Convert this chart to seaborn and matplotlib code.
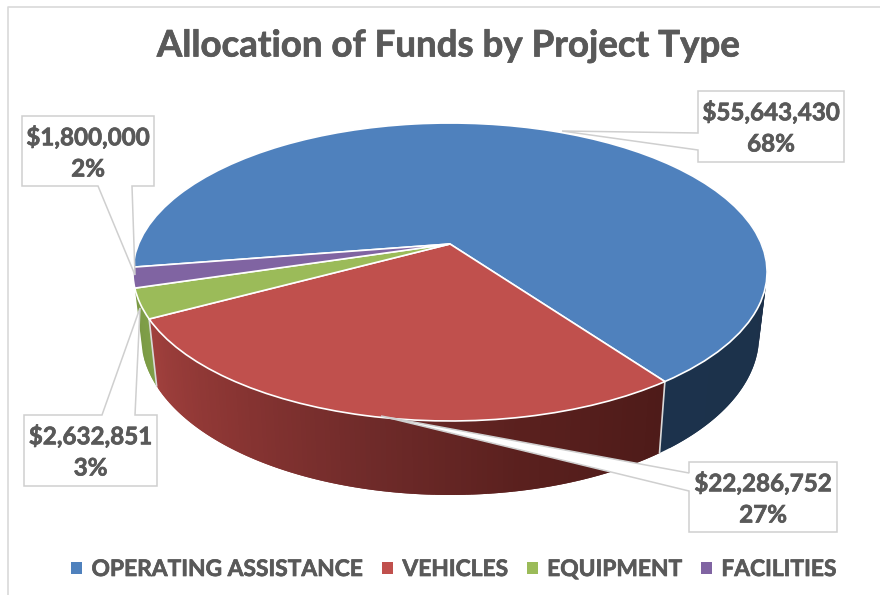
import numpy as np
import matplotlib
matplotlib.use('Agg')
import matplotlib.pyplot as plt
import matplotlib.patheffects as pe
from matplotlib.patches import Polygon, Patch
from matplotlib.transforms import Transform
import seaborn as sns

categorias = ['OPERATING ASSISTANCE', 'VEHICLES', 'EQUIPMENT', 'FACILITIES']
valores = [55643430, 22286752, 2632851, 1800000]
cores = ['#4F81BD', '#C0504D', '#9BBB59', '#8064A2']
titulo = 'Allocation of Funds by Project Type'

# geometria do disco em perspectiva (pixels)
CX, CY = 450, 244
A, B, K = 311.4, 143.7, 0.188
ENCOLHE = 0.975


class Perspectiva(Transform):
    input_dims = 2
    output_dims = 2

    def transform_non_affine(self, values):
        values = np.asarray(values, dtype=float)
        w = 1 + K * values[:, 1]
        return np.column_stack([CX + A * values[:, 0] / w, CY - B * values[:, 1] / w])


def borda(theta, base=False):
    t = np.radians(theta)
    v = np.sin(t)
    pts = Perspectiva().transform_non_affine(np.column_stack([np.cos(t), v]))
    if base:
        pts[:, 0] = CX + ENCOLHE * (pts[:, 0] - CX)
        pts[:, 1] = pts[:, 1] + 61 - 13 * v
    return pts


sns.set_theme(style='white')
plt.rcParams['font.family'] = ['Lato', 'DejaVu Sans']
paleta = sns.color_palette(cores)
COR_TEXTO = '#595959'
COR_CAIXA = '#CFCFCF'
engrossa = [pe.withStroke(linewidth=0.5, foreground=COR_TEXTO)]

fig = plt.figure(figsize=(8.8, 5.95), dpi=100)
ax = fig.add_axes([0, 0, 1, 1])

wedges, _ = ax.pie(valores, colors=paleta, startangle=189, counterclock=False,
                   wedgeprops={'edgecolor': 'white', 'linewidth': 1.2, 'zorder': 3})
ax.set_aspect('auto')
ax.set_xlim(0, 880)
ax.set_ylim(595, 0)
ax.axis('off')
for w in wedges:
    w.set_transform(Perspectiva() + ax.transData)

# lateral: azul, vermelho (com gradiente) e verde
gradiente_vermelho = sns.blend_palette(['#A0403D', '#8A3533', '#702B2A', '#5A201E', '#4E1B19'], 120)
laterais = [
    (wedges[0].theta1, 12, sns.blend_palette(['#1C324C', '#1D3149'], 30)),
    (wedges[1].theta1, wedges[1].theta2, gradiente_vermelho),
    (wedges[2].theta1, wedges[2].theta2, sns.blend_palette(['#7B9A45', '#7F9F48'], 6)),
]
for t1, t2, grad in laterais:
    angulos = np.linspace(t1, t2, len(grad) + 1)
    for i, cor in enumerate(grad):
        # cada faixa avanca sobre a proxima para nao aparecer emenda
        th = np.linspace(angulos[i], angulos[min(i + 2, len(grad))], 5)
        pts = np.vstack([borda(th), borda(th[::-1], base=True)])
        ax.add_patch(Polygon(pts, facecolor=cor, edgecolor='none', zorder=1))

# arestas verticais entre as fatias
for ang in [wedges[0].theta1, wedges[1].theta1]:
    a = borda(np.array([ang]))
    b = borda(np.array([ang]), base=True)
    ax.plot([a[0, 0], b[0, 0]], [a[0, 1], b[0, 1]], color='#D9D9D9', lw=1.2, zorder=2)

# caixas de rotulo com a seta (callout)
caixas = [
    (698, 91, 844, 162, [(698, 150), (562, 131), (698, 133)]),
    (689, 462, 837, 532, [(689, 491), (381, 416), (689, 473)]),
    (24, 415, 157, 486, [(135, 415), (140, 308), (102, 415)]),
    (22, 116, 154, 186, [(98, 186), (135, 275), (132, 186)]),
]
caixas_pts = [
    lambda c: [(c[0], c[1]), (c[2], c[1]), (c[2], c[3]), (c[0], c[3])] + c[4],
    lambda c: [(c[0], c[1]), (c[2], c[1]), (c[2], c[3]), (c[0], c[3])] + c[4],
    lambda c: [(c[0], c[1])] + c[4][::-1] + [(c[2], c[1]), (c[2], c[3]), (c[0], c[3])],
    lambda c: [(c[0], c[1]), (c[2], c[1]), (c[2], c[3])] + c[4][::-1] + [(c[0], c[3])],
]
total = sum(valores)
for val, c, f in zip(valores, caixas, caixas_pts):
    ax.add_patch(Polygon(f(c), closed=True, facecolor='white', edgecolor=COR_CAIXA,
                         linewidth=1.1, zorder=4))
    xm = (c[0] + c[2]) / 2
    ax.text(xm, c[1] + 21, f'${val:,.0f}', ha='center', va='center', fontsize=17.4,
            fontweight='bold', color=COR_TEXTO, zorder=5, path_effects=engrossa)
    ax.text(xm, c[1] + 53, f'{val / total * 100:.0f}%', ha='center', va='center', fontsize=17.4,
            fontweight='bold', color=COR_TEXTO, zorder=5, path_effects=engrossa)

ax.text(448, 46, titulo, ha='center', va='center', fontsize=26.4, fontweight='bold',
        color=COR_TEXTO, path_effects=engrossa)

# moldura do grafico
ax.plot([8, 8, 880], [595, 7, 7], color='#D9D9D9', lw=1.2, zorder=0)

handles = [Patch(facecolor=c, edgecolor='none') for c in paleta]
leg = ax.legend(handles, categorias, loc='center', bbox_to_anchor=(454 / 880, 1 - 569.5 / 595),
                ncol=4, frameon=False, handlelength=0.48, handleheight=0.48,
                handletextpad=0.42, columnspacing=0.8, labelcolor=COR_TEXTO,
                prop={'weight': 'bold', 'size': 16.4})
for t in leg.get_texts():
    t.set_path_effects(engrossa)

fig.savefig('out.png', dpi=100, facecolor='white')
